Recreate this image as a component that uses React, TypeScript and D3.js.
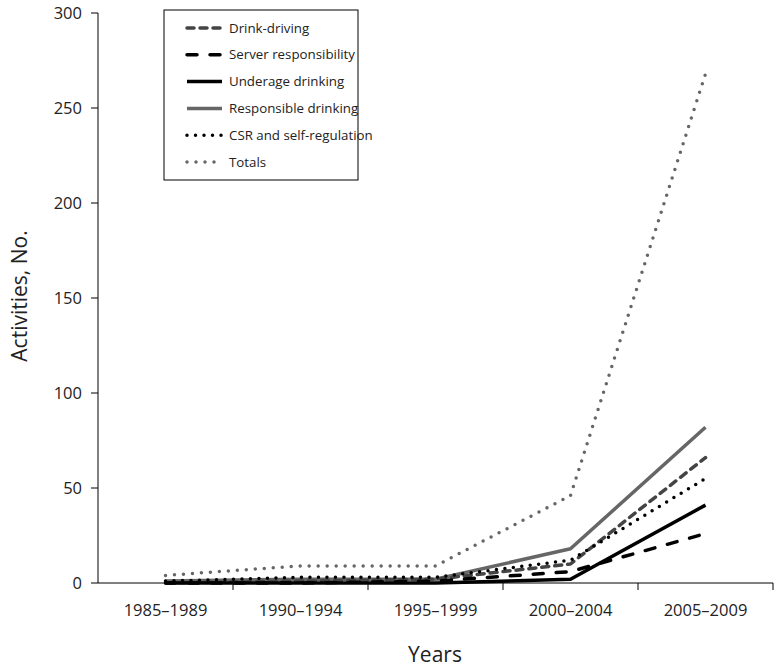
import React from "react";
import * as d3 from "d3";

const categories = ["1985–1989", "1990–1994", "1995–1999", "2000–2004", "2005–2009"];
const drinkDriving = [0, 1, 2, 10, 66];
const serverResponsibility = [0, 0, 1, 6, 26];
const underageDrinking = [0, 0, 0, 2, 41];
const responsibleDrinking = [1, 2, 2, 18, 82];
const csrSelfRegulation = [1, 3, 3, 12, 55];
const totals = [4, 9, 9, 46, 268];
const yTicks = [0, 50, 100, 150, 200, 250, 300];

const W = 775;
const H = 668;
const left = 98;
const right = 773;
const top = 13;
const bottom = 583;

type S = { name: string; values: number[]; color: string; width: number; dash?: string; cap?: string };

const series: S[] = [
  { name: "Drink-driving", values: drinkDriving, color: "#444", width: 3.5, dash: "7,6", cap: "round" },
  { name: "Server responsibility", values: serverResponsibility, color: "#000", width: 3.5, dash: "10,13", cap: "round" },
  { name: "Underage drinking", values: underageDrinking, color: "#000", width: 3.5 },
  { name: "Responsible drinking", values: responsibleDrinking, color: "#666", width: 3.5 },
  { name: "CSR and self-regulation", values: csrSelfRegulation, color: "#000", width: 3.5, dash: "0,8.5", cap: "round" },
  { name: "Totals", values: totals, color: "#666", width: 3.5, dash: "0,9", cap: "round" },
];

const drawOrder = [3, 0, 4, 2, 1, 5];

export default function App() {
  const x = d3.scaleBand<string>().domain(categories).range([left, right]);
  const y = d3.scaleLinear().domain([0, 300]).range([bottom, top]);
  const cx = (c: string) => (x(c) as number) + x.bandwidth() / 2;
  const line = d3
    .line<number>()
    .x((_, i) => cx(categories[i]))
    .y((v) => y(v));
  const font = "'Open Sans', sans-serif";
  const legX = 164;
  const legY = 10;
  const legRow = 26.8;
  return (
    <svg width={W} height={H} style={{ position: "absolute", left: 0, top: 0 }} fontFamily={font}>
      <rect x={0} y={0} width={W} height={H} fill="#fff" />
      {/* y axis */}
      <line x1={left} x2={left} y1={top} y2={bottom} stroke="#000" strokeWidth={1} />
      {yTicks.map((t) => (
        <g key={t}>
          <line x1={left - 7} x2={left} y1={y(t)} y2={y(t)} stroke="#000" strokeWidth={1} />
          <text x={82} y={y(t)} dy="0.35em" textAnchor="end" fontSize={16.5} fill="#222">
            {t}
          </text>
        </g>
      ))}
      {/* x axis */}
      <line x1={left} x2={right} y1={bottom} y2={bottom} stroke="#000" strokeWidth={1} />
      {categories.map((c) => (
        <g key={c}>
          <line
            x1={(x(c) as number) + x.bandwidth()}
            x2={(x(c) as number) + x.bandwidth()}
            y1={bottom}
            y2={bottom + 7}
            stroke="#000"
            strokeWidth={1}
          />
          <text x={cx(c)} y={616} textAnchor="middle" fontSize={16.5} fill="#222">
            {c}
          </text>
        </g>
      ))}
      <text x={435} y={662} textAnchor="middle" fontSize={21} fill="#222">
        Years
      </text>
      <text
        transform={`translate(27,296) rotate(-90)`}
        textAnchor="middle"
        fontSize={21}
        fill="#222"
      >
        Activities, No.
      </text>
      {/* lines */}
      {drawOrder.map((i) => {
        const s = series[i];
        return (
          <path
            key={s.name}
            d={line(s.values) as string}
            fill="none"
            stroke={s.color}
            strokeWidth={s.width}
            strokeDasharray={s.dash}
            strokeLinecap={(s.cap as any) || "butt"}
            strokeLinejoin="round"
          />
        );
      })}
      {/* legend */}
      <rect x={legX} y={legY} width={194} height={170} fill="#fff" stroke="#000" strokeWidth={1} />
      {series.map((s, i) => {
        const yy = legY + 18 + i * legRow;
        return (
          <g key={s.name}>
            <line
              x1={187}
              x2={222}
              y1={yy}
              y2={yy}
              stroke={s.color}
              strokeWidth={s.width}
              strokeDasharray={s.dash}
              strokeLinecap={(s.cap as any) || "butt"}
            />
            <text x={229} y={yy} dy="0.35em" fontSize={13.3} fill="#222">
              {s.name}
            </text>
          </g>
        );
      })}
    </svg>
  );
}
